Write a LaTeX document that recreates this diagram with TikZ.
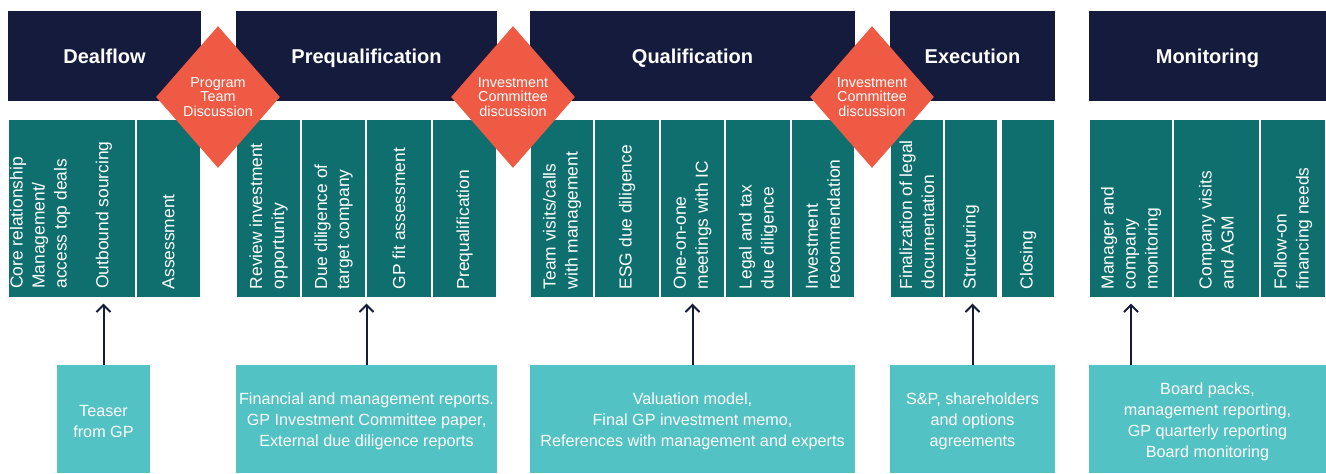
\documentclass[tikz,border=0pt]{standalone}
\usepackage{fontspec}
\setmainfont{Liberation Sans}
\usetikzlibrary{shapes.geometric,fit,arrows.meta}

\definecolor{navy}{HTML}{151B3D}
\definecolor{stageteal}{HTML}{0E6F6E}
\definecolor{gateorange}{HTML}{EE5A44}
\definecolor{docteal}{HTML}{52C2C4}

\tikzset{
  phase/.style={fill=navy, inner sep=0pt},
  phasetext/.style={text=white, inner sep=0pt, anchor=base, yshift=-3.8pt, font=\bfseries\fontsize{10}{12}\selectfont},
  task/.style={fill=stageteal, draw=white, line width=0.6pt, inner sep=0pt},
  tasktext/.style={rotate=90, anchor=west, align=left, text=white, inner sep=0pt, font=\fontsize{8.7}{11}\selectfont},
  gate/.style={diamond, fill=gateorange, text=white, inner sep=0pt, minimum width=62pt, minimum height=71pt, align=center, font=\fontsize{7.2}{7.4}\selectfont},
  doc/.style={fill=docteal, inner sep=0pt},
  doctext/.style={text=white, inner sep=0pt, yshift=-1.2pt, align=center, font=\fontsize{8.1}{10.5}\selectfont},
  feed/.style={draw=navy, line width=1pt, -{Straight Barb[length=3.5pt,width=7pt]}}
}

\begin{document}
\begin{tikzpicture}[x=0.5pt, y=-0.5pt]
  \useasboundingbox (0,0) rectangle (1326,473);
  % phases
  \node[phase, fit={(8,11) (201,101)}] (dealflow) {};
  \node[phase, fit={(236,11) (497,101)}] (prequal) {};
  \node[phase, fit={(530,11) (855,101)}] (qual) {};
  \node[phase, fit={(890,11) (1055,101)}] (exec) {};
  \node[phase, fit={(1089,11) (1326,101)}] (monitor) {};
  \node[phasetext] (h-dealflow) at (dealflow.center) {Dealflow};
  \node[phasetext] (h-prequal) at (prequal.center) {Prequalification};
  \node[phasetext] (h-qual) at (qual.center) {Qualification};
  \node[phasetext] (h-exec) at (exec.center) {Execution};
  \node[phasetext] (h-monitor) at (monitor.center) {Monitoring};

  % tasks
  \node[task, fit={(8,119) (136,298)}] (df1) {};
  \node[task, fit={(136,119) (201,298)}] (df2) {};
  \node[tasktext] (t-core) at (40,289) {Core relationship\\Management/\\access top deals};
  \node[tasktext] (t-outbound) at (104,289) {Outbound sourcing};
  \node[tasktext] (t-assess) at ([yshift=4.5pt]df2.south) {Assessment};

  \node[task, fit={(236,119) (301,298)}] (pq1) {};
  \node[task, fit={(301,119) (366,298)}] (pq2) {};
  \node[task, fit={(366,119) (432,298)}] (pq3) {};
  \node[task, fit={(432,119) (497,298)}] (pq4) {};
  \node[tasktext] (t-review) at ([yshift=4.5pt]pq1.south) {Review investment\\opportunity};
  \node[tasktext] (t-dd) at ([yshift=4.5pt]pq2.south) {Due diligence of\\target company};
  \node[tasktext] (t-gpfit) at ([yshift=4.5pt]pq3.south) {GP fit assessment};
  \node[tasktext] (t-prequal) at ([yshift=4.5pt]pq4.south) {Prequalification};

  \node[task, fit={(530,119) (594,298)}] (q1) {};
  \node[task, fit={(594,119) (660,298)}] (q2) {};
  \node[task, fit={(660,119) (725,298)}] (q3) {};
  \node[task, fit={(725,119) (791,298)}] (q4) {};
  \node[task, fit={(791,119) (855,298)}] (q5) {};
  \node[tasktext] (t-visits) at ([yshift=4.5pt]q1.south) {Team visits/calls\\with management};
  \node[tasktext] (t-esg) at ([yshift=4.5pt]q2.south) {ESG due diligence};
  \node[tasktext] (t-oneonone) at ([yshift=4.5pt]q3.south) {One-on-one\\meetings with IC};
  \node[tasktext] (t-legal) at ([yshift=4.5pt]q4.south) {Legal and tax\\due diligence};
  \node[tasktext] (t-recommend) at ([yshift=4.5pt]q5.south) {Investment\\recommendation};

  \node[task, fit={(890,119) (944,298)}] (ex1) {};
  \node[task, fit={(944,119) (998,298)}] (ex2) {};
  \node[task, fit={(1001,119) (1055,298)}] (ex3) {};
  \node[tasktext] (t-final) at ([yshift=4.5pt]ex1.south) {Finalization of legal\\documentation};
  \node[tasktext] (t-struct) at ([yshift=4.5pt]ex2.south) {Structuring};
  \node[tasktext] (t-closing) at ([yshift=4.5pt]ex3.south) {Closing};

  \node[task, fit={(1089,119) (1173,298)}] (mo1) {};
  \node[task, fit={(1173,119) (1260,298)}] (mo2) {};
  \node[task, fit={(1260,119) (1326,298)}] (mo3) {};
  \node[tasktext] (t-manager) at ([yshift=4.5pt]mo1.south) {Manager and\\company\\monitoring};
  \node[tasktext] (t-visitsagm) at ([yshift=4.5pt]mo2.south) {Company visits\\and AGM};
  \node[tasktext] (t-followon) at ([yshift=4.5pt]mo3.south) {Follow-on\\financing needs};

  % gates between phases
  \node[gate] (ptd) at (218,97) {Program\\Team\\Discussion};
  \node[gate] (icd1) at (513,97) {Investment\\Committee\\discussion};
  \node[gate] (icd2) at (872,97) {Investment\\Committee\\discussion};

  % documents
  \node[doc, fit={(57,365) (150,473)}] (teaser) {};
  \node[doc, fit={(236,365) (497,473)}] (prereports) {};
  \node[doc, fit={(530,365) (855,473)}] (valuation) {};
  \node[doc, fit={(890,365) (1055,473)}] (agreements) {};
  \node[doc, fit={(1089,365) (1326,473)}] (boardpacks) {};
  \node[doctext] (d-teaser) at (teaser.center) {Teaser\\from GP};
  \node[doctext] (d-prereports) at (prereports.center) {Financial and management reports.\\GP Investment Committee paper,\\External due diligence reports};
  \node[doctext] (d-valuation) at (valuation.center) {Valuation model,\\Final GP investment memo,\\References with management and experts};
  \node[doctext] (d-agreements) at (agreements.center) {S\&P, shareholders\\and options\\agreements};
  \node[doctext] (d-boardpacks) at (boardpacks.center) {Board packs,\\management reporting,\\GP quarterly reporting\\Board monitoring};

  \draw[feed] (teaser.north) -- ([yshift=-2.5pt]teaser.north |- df1.south);
  \draw[feed] (prereports.north) -- ([yshift=-2.5pt]prereports.north |- pq1.south);
  \draw[feed] (valuation.north) -- ([yshift=-2.5pt]valuation.north |- q1.south);
  \draw[feed] (agreements.north) -- ([yshift=-2.5pt]agreements.north |- ex1.south);
  \draw[feed] (boardpacks.north -| mo1.south) -- ([yshift=-2.5pt]mo1.south);
\end{tikzpicture}
\end{document}
